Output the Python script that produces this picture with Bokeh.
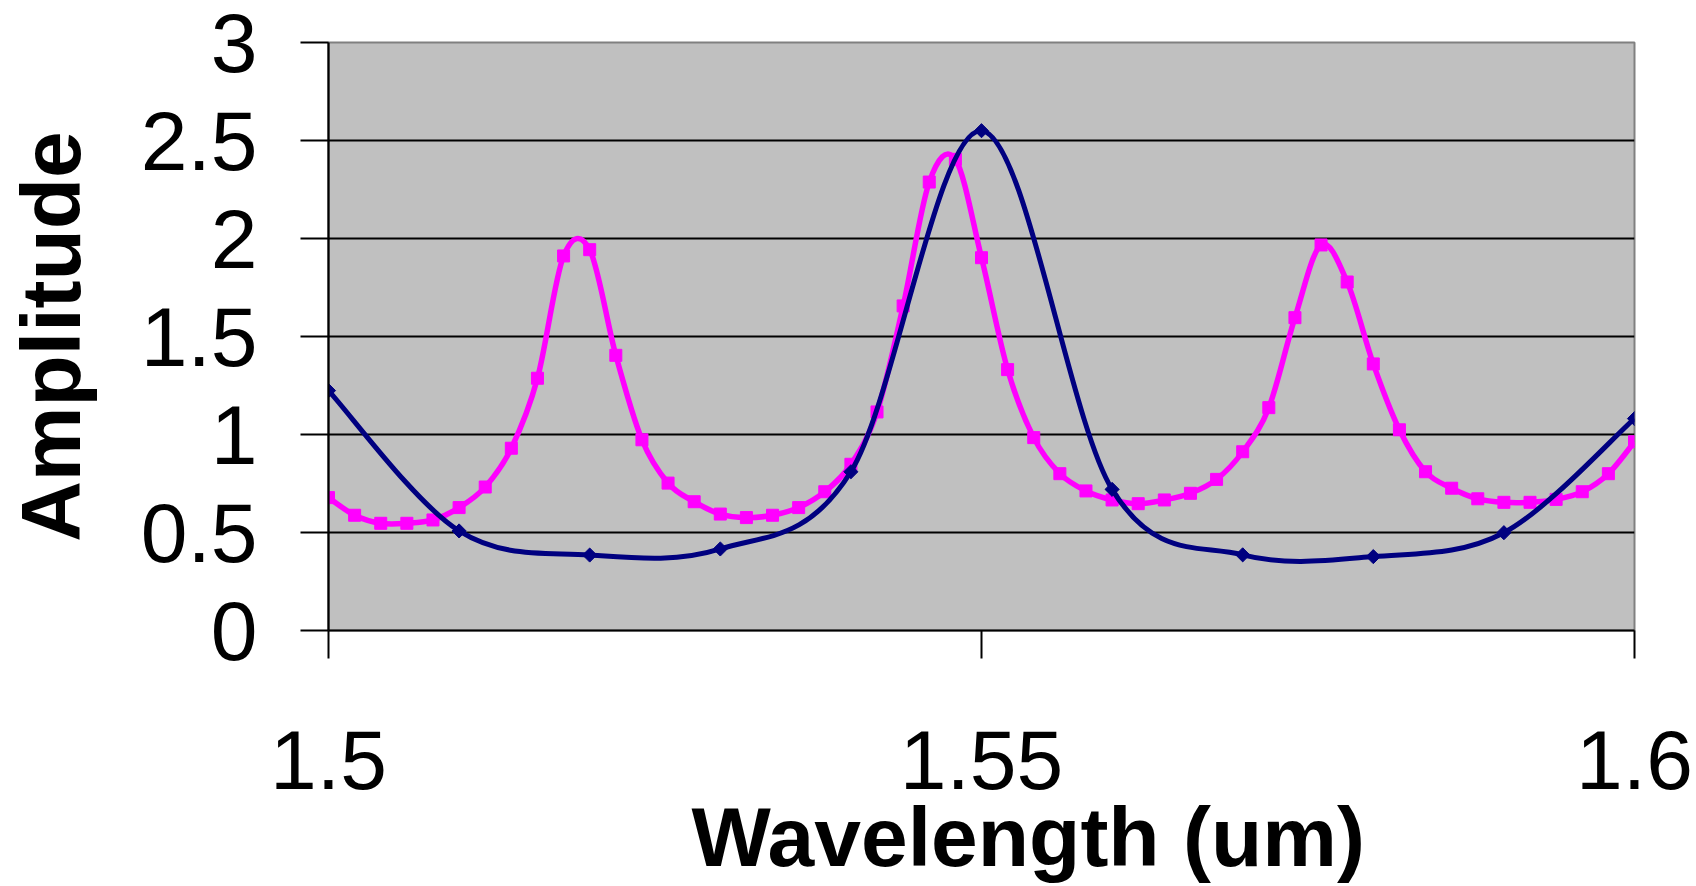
import numpy as np
from bokeh.plotting import figure
from bokeh.models import FixedTicker, Range1d
from bokeh.embed import file_html
from bokeh.resources import INLINE

# ---- data ----
wl_magenta = [round(1.5 + 0.002 * k, 3) for k in range(51)]
amp_magenta = [0.678, 0.588, 0.547, 0.547, 0.564, 0.627, 0.732, 0.930, 1.287, 1.911,
               1.943, 1.404, 0.973, 0.752, 0.657, 0.594, 0.576, 0.588, 0.627, 0.708,
               0.848, 1.115, 1.656, 2.288, 2.404, 1.902, 1.331, 0.984, 0.800, 0.712,
               0.666, 0.647, 0.666, 0.700, 0.771, 0.912, 1.137, 1.596, 1.967, 1.778,
               1.360, 1.024, 0.810, 0.726, 0.672, 0.654, 0.654, 0.669, 0.708, 0.800,
               0.963]
wl_blue = [1.50, 1.51, 1.52, 1.53, 1.54, 1.55, 1.56, 1.57, 1.58, 1.59, 1.60]
amp_blue = [1.224, 0.508, 0.385, 0.416, 0.810, 2.550, 0.720, 0.386, 0.377, 0.499, 1.081]

y_ticks = [0, 0.5, 1, 1.5, 2, 2.5, 3]
y_tick_labels = ["0", "0.5", "1", "1.5", "2", "2.5", "3"]
x_ticks = [1.5, 1.55, 1.6]
x_tick_labels = ["1.5", "1.55", "1.6"]
x_title = "Wavelength (um)"
y_title = "Amplitude"

FONT = "Liberation Sans"
NBSP = "\u00a0"


def smooth_segments(xs, ys):
    """Bezier segments through the data points (Excel-style smoothed line)."""
    x = np.asarray(xs, float)
    y = np.asarray(ys, float)
    n = len(x)
    xp = np.concatenate([[x[0]], x, [x[-1]]])
    yp = np.concatenate([[y[0]], y, [y[-1]]])
    i = np.arange(n - 1)
    x0, y0 = x[i], y[i]
    x1, y1 = x[i + 1], y[i + 1]
    cx0 = x0 + (xp[i + 2] - xp[i]) / 6.0
    cy0 = y0 + (yp[i + 2] - yp[i]) / 6.0
    cx1 = x1 - (xp[i + 3] - xp[i + 1]) / 6.0
    cy1 = y1 - (yp[i + 3] - yp[i + 1]) / 6.0
    return dict(x0=x0, y0=y0, x1=x1, y1=y1, cx0=cx0, cy0=cy0, cx1=cx1, cy1=cy1)


p = figure(width=1696, height=886, output_backend="svg", toolbar_location=None,
           x_range=Range1d(1.5, 1.6), y_range=Range1d(0, 3),
           min_border_left=326, min_border_right=62, min_border_top=42, min_border_bottom=256)

p.border_fill_color = "white"
p.background_fill_color = "#C0C0C0"
p.outline_line_color = "#808080"
p.outline_line_width = 2

p.xgrid.visible = False
p.ygrid.ticker = FixedTicker(ticks=y_ticks)
p.ygrid.grid_line_color = "black"
p.ygrid.grid_line_width = 2.2

for ax, ticks, labels in ((p.xaxis[0], x_ticks, x_tick_labels), (p.yaxis[0], y_ticks, y_tick_labels)):
    ax.ticker = FixedTicker(ticks=ticks)
    ax.major_label_overrides = {t: l for t, l in zip(ticks, labels)}
    ax.axis_line_color = "black"
    ax.axis_line_width = 2.2
    ax.major_tick_line_color = "black"
    ax.major_tick_line_width = 2
    ax.major_tick_in = 0
    ax.major_tick_out = 28
    ax.minor_tick_line_color = None
    ax.major_label_text_font = FONT
    ax.major_label_text_font_size = "84px"
    ax.major_label_text_color = "black"
    ax.axis_label_text_font = FONT
    ax.axis_label_text_font_style = "bold"
    ax.axis_label_text_font_size = "84px"
    ax.axis_label_text_color = "black"

p.yaxis.major_label_standoff = 43
p.xaxis.major_label_standoff = 72

# the x title sits right of centre in the reference: leading no-break spaces shift it
p.xaxis.axis_label = NBSP * 4 + x_title
p.yaxis.axis_label = y_title
p.xaxis.axis_label_standoff = -2
p.yaxis.axis_label_standoff = 40

# series
bm = smooth_segments(wl_magenta, amp_magenta)
p.bezier(line_color="#FF00FF", line_width=5.5, **bm)
p.scatter(wl_magenta, amp_magenta, marker="square", size=12, fill_color="#FF00FF",
          line_color="#FF00FF")

bb = smooth_segments(wl_blue, amp_blue)
p.bezier(line_color="#000080", line_width=5, **bb)
p.scatter(wl_blue, amp_blue, marker="square", angle=np.pi / 4, size=10,
          fill_color="#000080", line_color="#000080")

open("out.html", "w").write(file_html(p, INLINE))
